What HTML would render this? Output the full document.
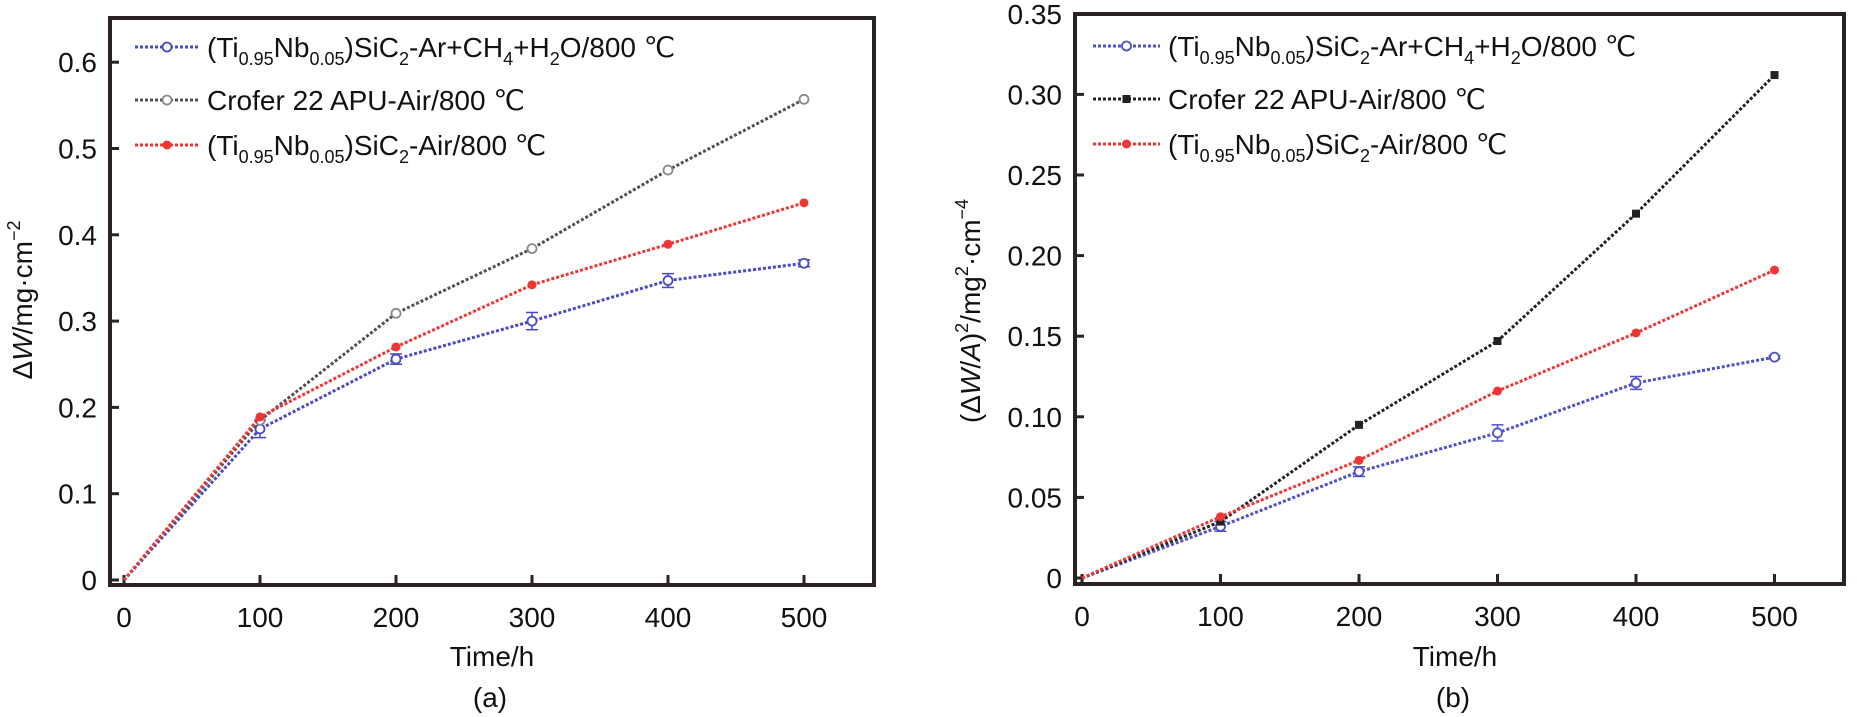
<!DOCTYPE html>
<html><head><meta charset="utf-8"><style>
html,body{margin:0;padding:0;background:#fff;}
svg{display:block;font-family:"Liberation Sans",Arial,sans-serif;}
</style></head><body>
<svg id="svg" width="1857" height="717" viewBox="0 0 1857 717" xmlns="http://www.w3.org/2000/svg"></svg>
<script>
const times = [0,100,200,300,400,500];
const aBlue = [0,0.175,0.256,0.300,0.347,0.367];
const aBlueErr = [0,0.01,0.006,0.01,0.008,0.004];
const aGray = [0,0.185,0.309,0.384,0.475,0.557];
const aRed = [0,0.189,0.270,0.342,0.389,0.437];
const bBlue = [0,0.032,0.066,0.090,0.121,0.137];
const bBlueErr = [0,0.003,0.003,0.005,0.004,0.001];
const bBlack = [0,0.035,0.095,0.147,0.226,0.312];
const bRed = [0,0.038,0.073,0.116,0.152,0.191];
const aYTicks = [0,0.1,0.2,0.3,0.4,0.5,0.6];
const aYLabels = ["0","0.1","0.2","0.3","0.4","0.5","0.6"];
const bYTicks = [0,0.05,0.10,0.15,0.20,0.25,0.30,0.35];
const bYLabels = ["0","0.05","0.10","0.15","0.20","0.25","0.30","0.35"];
const xTicks = [0,100,200,300,400,500];

const NS="http://www.w3.org/2000/svg";
const svg=document.getElementById('svg');
function mk(tag,attrs,parent){const e=document.createElementNS(NS,tag);for(const k in attrs)e.setAttribute(k,attrs[k]);(parent||svg).appendChild(e);return e;}

function panel(cfg){
  const g=mk('g',{});
  
  
  const X=v=>cfg.x0+(v/100)*cfg.xs;
  const Y=v=>cfg.y0-(v/cfg.ystep)*cfg.ys;
  // frame
  const fr=mk('rect',{x:cfg.L,y:cfg.T,width:cfg.R-cfg.L,height:cfg.B-cfg.T,fill:'none',stroke:'#2b2222','stroke-width':4},g);
  
  
  // y ticks
  cfg.yTicks.forEach((v,i)=>{
    const t=mk('line',{x1:cfg.L,x2:cfg.L+9,y1:Y(v),y2:Y(v),stroke:'#2b2222','stroke-width':3},g);
    
    
    const l=mk('text',{x:cfg.L-13,y:Y(v)+10,'font-size':28,'text-anchor':'end',fill:'#111'},g);
    l.textContent=cfg.yLabels[i];
    
    
  });
  xTicks.forEach(v=>{
    const t=mk('line',{x1:X(v),x2:X(v),y1:cfg.B,y2:cfg.B-10,stroke:'#2b2222','stroke-width':3},g);
    
    
    const l=mk('text',{x:X(v),y:cfg.B+42,'font-size':28,'text-anchor':'middle',fill:'#111'},g);
    l.textContent=String(v);
    
    
  });
  // series
  cfg.series.forEach(s=>{
    const sg=mk('g',{},g);
    
    
    const pts=times.map((t,i)=>X(t)+','+Y(s.vals[i])).join(' ');
    mk('polyline',{points:pts,fill:'none',stroke:s.color,'stroke-width':3,'stroke-dasharray':'3 2'},sg);
    times.forEach((t,i)=>{
      if(i===0)return;
      const cx=X(t),cy=Y(s.vals[i]);
      if(s.err){const e=s.err[i];const y1=Y(s.vals[i]+e),y2=Y(s.vals[i]-e);
        mk('line',{x1:cx,x2:cx,y1:y1,y2:y2,stroke:s.color,'stroke-width':1.5},sg);
        mk('line',{x1:cx-6,x2:cx+6,y1:y1,y2:y1,stroke:s.color,'stroke-width':1.5},sg);
        mk('line',{x1:cx-6,x2:cx+6,y1:y2,y2:y2,stroke:s.color,'stroke-width':1.5},sg);}
      let m;
      if(s.marker==='square') m=mk('rect',{x:cx-4,y:cy-4,width:8,height:8,fill:s.color},sg);
      else if(s.marker==='open') m=mk('circle',{cx:cx,cy:cy,r:4.5,fill:'#fff',stroke:s.mcolor||s.color,'stroke-width':1.8},sg);
      else m=mk('circle',{cx:cx,cy:cy,r:4.5,fill:s.color},sg);
      
      
    });
  });
  // legend
  cfg.series.forEach((s,i)=>{
    const ly=cfg.legY[i];
    const lg=mk('g',{},g);
    
    
    mk('line',{x1:cfg.legX0,x2:cfg.legX1,y1:ly,y2:ly,stroke:s.color,'stroke-width':3,'stroke-dasharray':'3 2'},lg);
    const mx=(cfg.legX0+cfg.legX1)/2;
    if(s.marker==='square') mk('rect',{x:mx-4,y:ly-4,width:8,height:8,fill:s.color},lg);
    else if(s.marker==='open') mk('circle',{cx:mx,cy:ly,r:4.5,fill:'#fff',stroke:s.mcolor||s.color,'stroke-width':1.8},lg);
    else mk('circle',{cx:mx,cy:ly,r:4.5,fill:s.color},lg);
    const tx=mk('text',{x:cfg.legX1+8,y:ly+10,'font-size':28,fill:'#111'},lg);
    tx.innerHTML=s.label;
  });
  return {X,Y};
}
const sub=t=>`<tspan font-size="18" dy="8">${t}</tspan><tspan dy="-8">`;
const l1=`(Ti${sub('0.95')}Nb${sub('0.05')})SiC${sub('2')}-Ar+CH${sub('4')}+H${sub('2')}O/800 ℃</tspan></tspan></tspan></tspan></tspan>`;
const l3=`(Ti${sub('0.95')}Nb${sub('0.05')})SiC${sub('2')}-Air/800 ℃</tspan></tspan></tspan>`;
const l2='Crofer 22 APU-Air/800 ℃';

panel({name:'chart-a',L:110,R:874,T:18,B:585,x0:124,xs:136,y0:580,ys:86.3,ystep:0.1,
  yTicks:aYTicks,yLabels:aYLabels,legX0:135,legX1:199,legY:[47,100,145],
  series:[
    {name:'series-ar-ch4-h2o',vals:aBlue,err:aBlueErr,color:'#4a4ac8',marker:'open',label:l1},
    {name:'series-crofer',vals:aGray,color:'#555050',marker:'open',mcolor:'#8a8a8a',label:l2},
    {name:'series-air',vals:aRed,color:'#f03535',marker:'filled',label:l3}
  ]});
panel({name:'chart-b',L:1075,R:1844,T:14,B:584,x0:1082,xs:138.5,y0:578,ys:80.6,ystep:0.05,
  yTicks:bYTicks,yLabels:bYLabels,legX0:1093,legX1:1160,legY:[46,99,144],
  series:[
    {name:'series-ar-ch4-h2o',vals:bBlue,err:bBlueErr,color:'#5050c8',marker:'open',label:l1},
    {name:'series-crofer',vals:bBlack,color:'#222',marker:'square',label:l2},
    {name:'series-air',vals:bRed,color:'#f03535',marker:'filled',label:l3}
  ]});

function txt(x,y,html,name,rot){
  const t=mk('text',{x:x,y:y,'font-size':28,'text-anchor':'middle',fill:'#111'});
  if(rot)t.setAttribute('transform',`rotate(-90 ${x} ${y})`);
  t.innerHTML=html;
  
  
}
txt(32,300,'Δ<tspan font-style="italic">W</tspan>/mg·cm<tspan font-size="18" dy="-12">−2</tspan>','y-axis-title-a',true);
txt(492,666,'Time/h','x-axis-title-a');
txt(490,707,'(a)','panel-label-a');
txt(980,311,'(Δ<tspan font-style="italic">W</tspan>/<tspan font-style="italic">A</tspan>)<tspan font-size="18" dy="-12">2</tspan><tspan dy="12">/mg</tspan><tspan font-size="18" dy="-12">2</tspan><tspan dy="12">·cm</tspan><tspan font-size="18" dy="-12">−4</tspan>','y-axis-title-b',true);
txt(1455,666,'Time/h','x-axis-title-b');
txt(1453,707,'(b)','panel-label-b');
</script>
</body></html>
